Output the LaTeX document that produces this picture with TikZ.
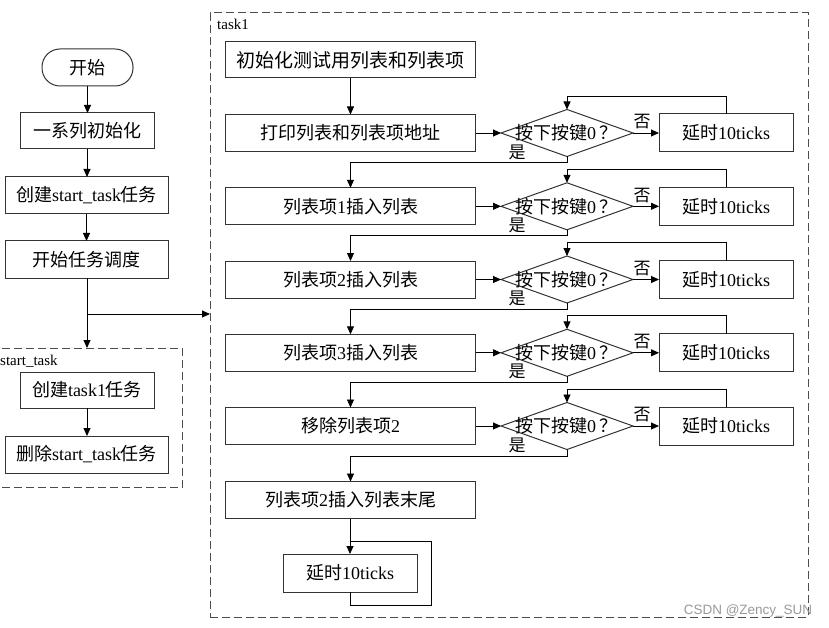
\documentclass[tikz,border=0pt]{standalone}
\usepackage{fontspec}
\setmainfont{Liberation Serif}
\newfontfamily\cj{Noto Sans CJK SC}
\newfontfamily\wmfont{Liberation Sans}
\usetikzlibrary{shapes.geometric,arrows.meta}
\tikzset{
 box/.style={draw=black!80,line width=1pt,minimum height=37pt,inner sep=0pt,outer sep=0pt,font=\fontsize{18}{18}\selectfont},
 dec/.style={draw=black!80,line width=1pt,shape=diamond,minimum width=132pt,minimum height=47pt,inner sep=0pt,outer sep=0pt},
 arr/.style={line width=0.9pt,-{Triangle[length=8pt,width=7pt]}},
 ln/.style={line width=0.9pt},
 dbox/.style={draw=black!70,line width=1pt,dash pattern=on 8pt off 4pt,inner sep=0pt,outer sep=0pt},
 lab/.style={font=\fontsize{17}{17}\selectfont,inner sep=0pt},
 qtext/.style={font=\fontsize{18}{18}\selectfont,inner sep=0pt},
 tag/.style={font=\fontsize{15}{15}\selectfont,inner sep=0pt,anchor=west}
}
\newcommand\flowrow[3]{%
 \node[box,minimum width=250pt] (r#1) at (350.5,#2) {#3};
 \node[dec] (d#1) at (567,#2) {};
 \node[qtext] (q#1) at (566,#2) {{\cj 按下按键}0\,{\cj ？}};
 \node[box,minimum width=134pt,minimum height=38pt] (w#1) at (726,#2) {{\cj 延时}10ticks};
 \node[lab] (n#1) at (642,#2-11) {\cj 否};
 \node[lab] (y#1) at (517,#2+19) {\cj 是};
 \draw[arr] (r#1.east) -- (d#1.west);
 \draw[arr] (d#1.east) -- (w#1.west);
 \draw[arr] (w#1.north) -- ++(0,-18) -| (d#1.north);
}
\begin{document}
\begin{tikzpicture}[x=1pt,y=-1pt]
\useasboundingbox (0,0) rectangle (829,628);
% left column
\node[box,minimum width=91pt,rounded corners=18pt] (start) at (87.5,67.5) {\cj 开始};
\node[box,minimum width=134pt,minimum height=36pt] (init) at (87,131) {\cj 一系列初始化};
\node[box,minimum width=163pt] (create) at (86.5,195.5) {{\cj 创建}start\_task{\cj 任务}};
\node[box,minimum width=163pt] (sched) at (86.5,259.5) {\cj 开始任务调度};
\node[dbox,minimum width=192.5pt,minimum height=139pt] (stbox) at (86.25,417.5) {};
\node[tag] (sttag) at (0,361) {start\_task};
\node[box,minimum width=134pt,minimum height=36pt] (ct1) at (87,390) {{\cj 创建}task1{\cj 任务}};
\node[box,minimum width=163pt] (del) at (86.5,454.5) {{\cj 删除}start\_task{\cj 任务}};
% task1 area
\node[dbox,minimum width=598pt,minimum height=604pt] (tbox) at (509,315) {};
\node[tag] (ttag) at (217,24) {task1};
\node[box,minimum width=250pt,minimum height=36pt,font=\fontsize{19}{19}\selectfont] (t0) at (350.5,60) {\cj 初始化测试用列表和列表项};
\flowrow{1}{133}{\cj 打印列表和列表项地址}
\flowrow{2}{206.3}{{\cj 列表项}1{\cj 插入列表}}
\flowrow{3}{279.5}{{\cj 列表项}2{\cj 插入列表}}
\flowrow{4}{352.8}{{\cj 列表项}3{\cj 插入列表}}
\flowrow{5}{426}{{\cj 移除列表项}2}
\node[box,minimum width=250pt] (tail) at (350.5,500) {{\cj 列表项}2{\cj 插入列表末尾}};
\node[box,minimum width=134pt,minimum height=38pt] (last) at (350,573) {{\cj 延时}10ticks};
% left connectors
\draw[arr] (start.south) -- (start.south |- init.north);
\draw[arr] (init.south) -- (init.south |- create.north);
\draw[arr] (create.south) -- (create.south |- sched.north);
\coordinate (br) at (87,314);
\draw[ln] (sched.south -| br) -- (br);
\draw[arr] (br) -- (br -| tbox.west);
\draw[arr] (br) -- (br |- stbox.north);
\draw[arr] (ct1.south) -- (ct1.south |- del.north);
% task1 connectors
\draw[arr] (t0.south) -- (r1.north);
\draw[arr] (d1.south) -- ++(0,6) -| (r2.north);
\draw[arr] (d2.south) -- ++(0,6) -| (r3.north);
\draw[arr] (d3.south) -- ++(0,6) -| (r4.north);
\draw[arr] (d4.south) -- ++(0,6) -| (r5.north);
\draw[arr] (d5.south) -- ++(0,6.5) -| (tail.north);
\draw[arr] (tail.south -| last.north) -- (last.north);
\coordinate (lpA) at (431,605);
\coordinate (lpB) at (431,541);
\draw[ln] (last.south) |- (lpA) -- (lpB) -- (lpB -| last.north);
% watermark
\node[font=\wmfont\fontsize{13.5}{13.5}\selectfont,text=black!40,inner sep=0pt] (wm) at (748,611) {CSDN @Zency\_SUN};
\end{tikzpicture}
\end{document}
